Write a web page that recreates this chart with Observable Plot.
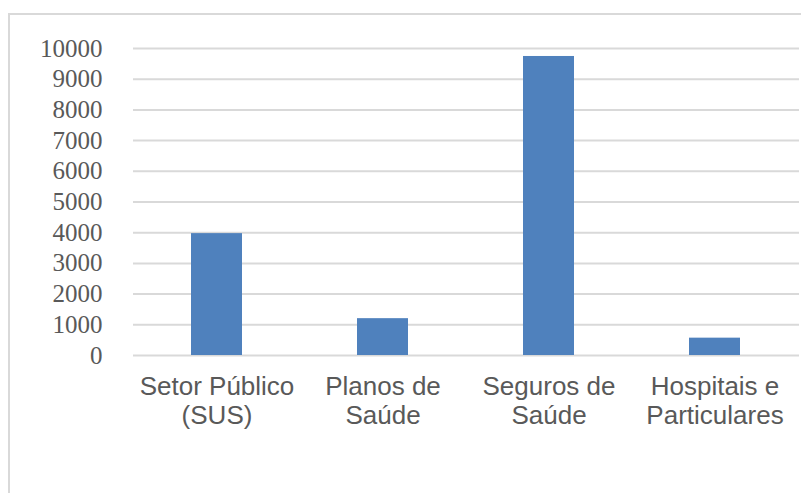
<!DOCTYPE html>
<html>
<head>
<meta charset="utf-8">
<script src="https://cdn.jsdelivr.net/npm/d3@7"></script>
<script src="https://cdn.jsdelivr.net/npm/@observablehq/plot@0.6"></script>
<style>
  html, body { margin: 0; padding: 0; background: #ffffff; overflow: hidden; }
  #wrap { position: relative; width: 801px; height: 493px; }
  #frame { position: absolute; left: 8px; top: 13px; width: 820px; height: 520px; border: 2px solid #d9d9d9; box-sizing: border-box; }
  #chart { position: absolute; left: 0; top: 0; }
</style>
</head>
<body>
<div id="wrap"><div id="frame"></div><div id="chart"></div></div>
<script>
const categories = ["Setor Público\n(SUS)", "Planos de\nSaúde", "Seguros de\nSaúde", "Hospitais e\nParticulares"];
const values = [3970, 1200, 9740, 565];
const yTicks = [0, 1000, 2000, 3000, 4000, 5000, 6000, 7000, 8000, 9000, 10000];

const data = categories.map((c, i) => ({category: c, value: values[i]}));

const chart = Plot.plot({
  width: 801,
  height: 493,
  marginLeft: 133,
  marginRight: 2,
  marginTop: 48,
  marginBottom: 138,
  style: {background: "transparent", fontFamily: "Liberation Sans, Arial, sans-serif", color: "#595959"},
  x: {domain: categories, paddingInner: 0.69, paddingOuter: 0.345, label: null},
  y: {domain: [0, 10000], label: null},
  marks: [
    Plot.gridY(yTicks, {stroke: "#d9d9d9", strokeOpacity: 1, strokeWidth: 2}),
    Plot.barY(data, {x: "category", y: "value", fill: "#4f81bd"}),
    Plot.axisY(yTicks, {tickSize: 0, tickPadding: 31, fontSize: 25, fontFamily: "Liberation Serif, serif", fill: "#595959", label: null, tickFormat: d => String(d)}),
    Plot.axisX({tickSize: 0, tickPadding: 19, fontSize: 26, lineHeight: 1.12, fontFamily: "Liberation Sans, Arial, sans-serif", fill: "#595959", label: null})
  ]
});
document.getElementById("chart").appendChild(chart);
</script>
</body>
</html>
